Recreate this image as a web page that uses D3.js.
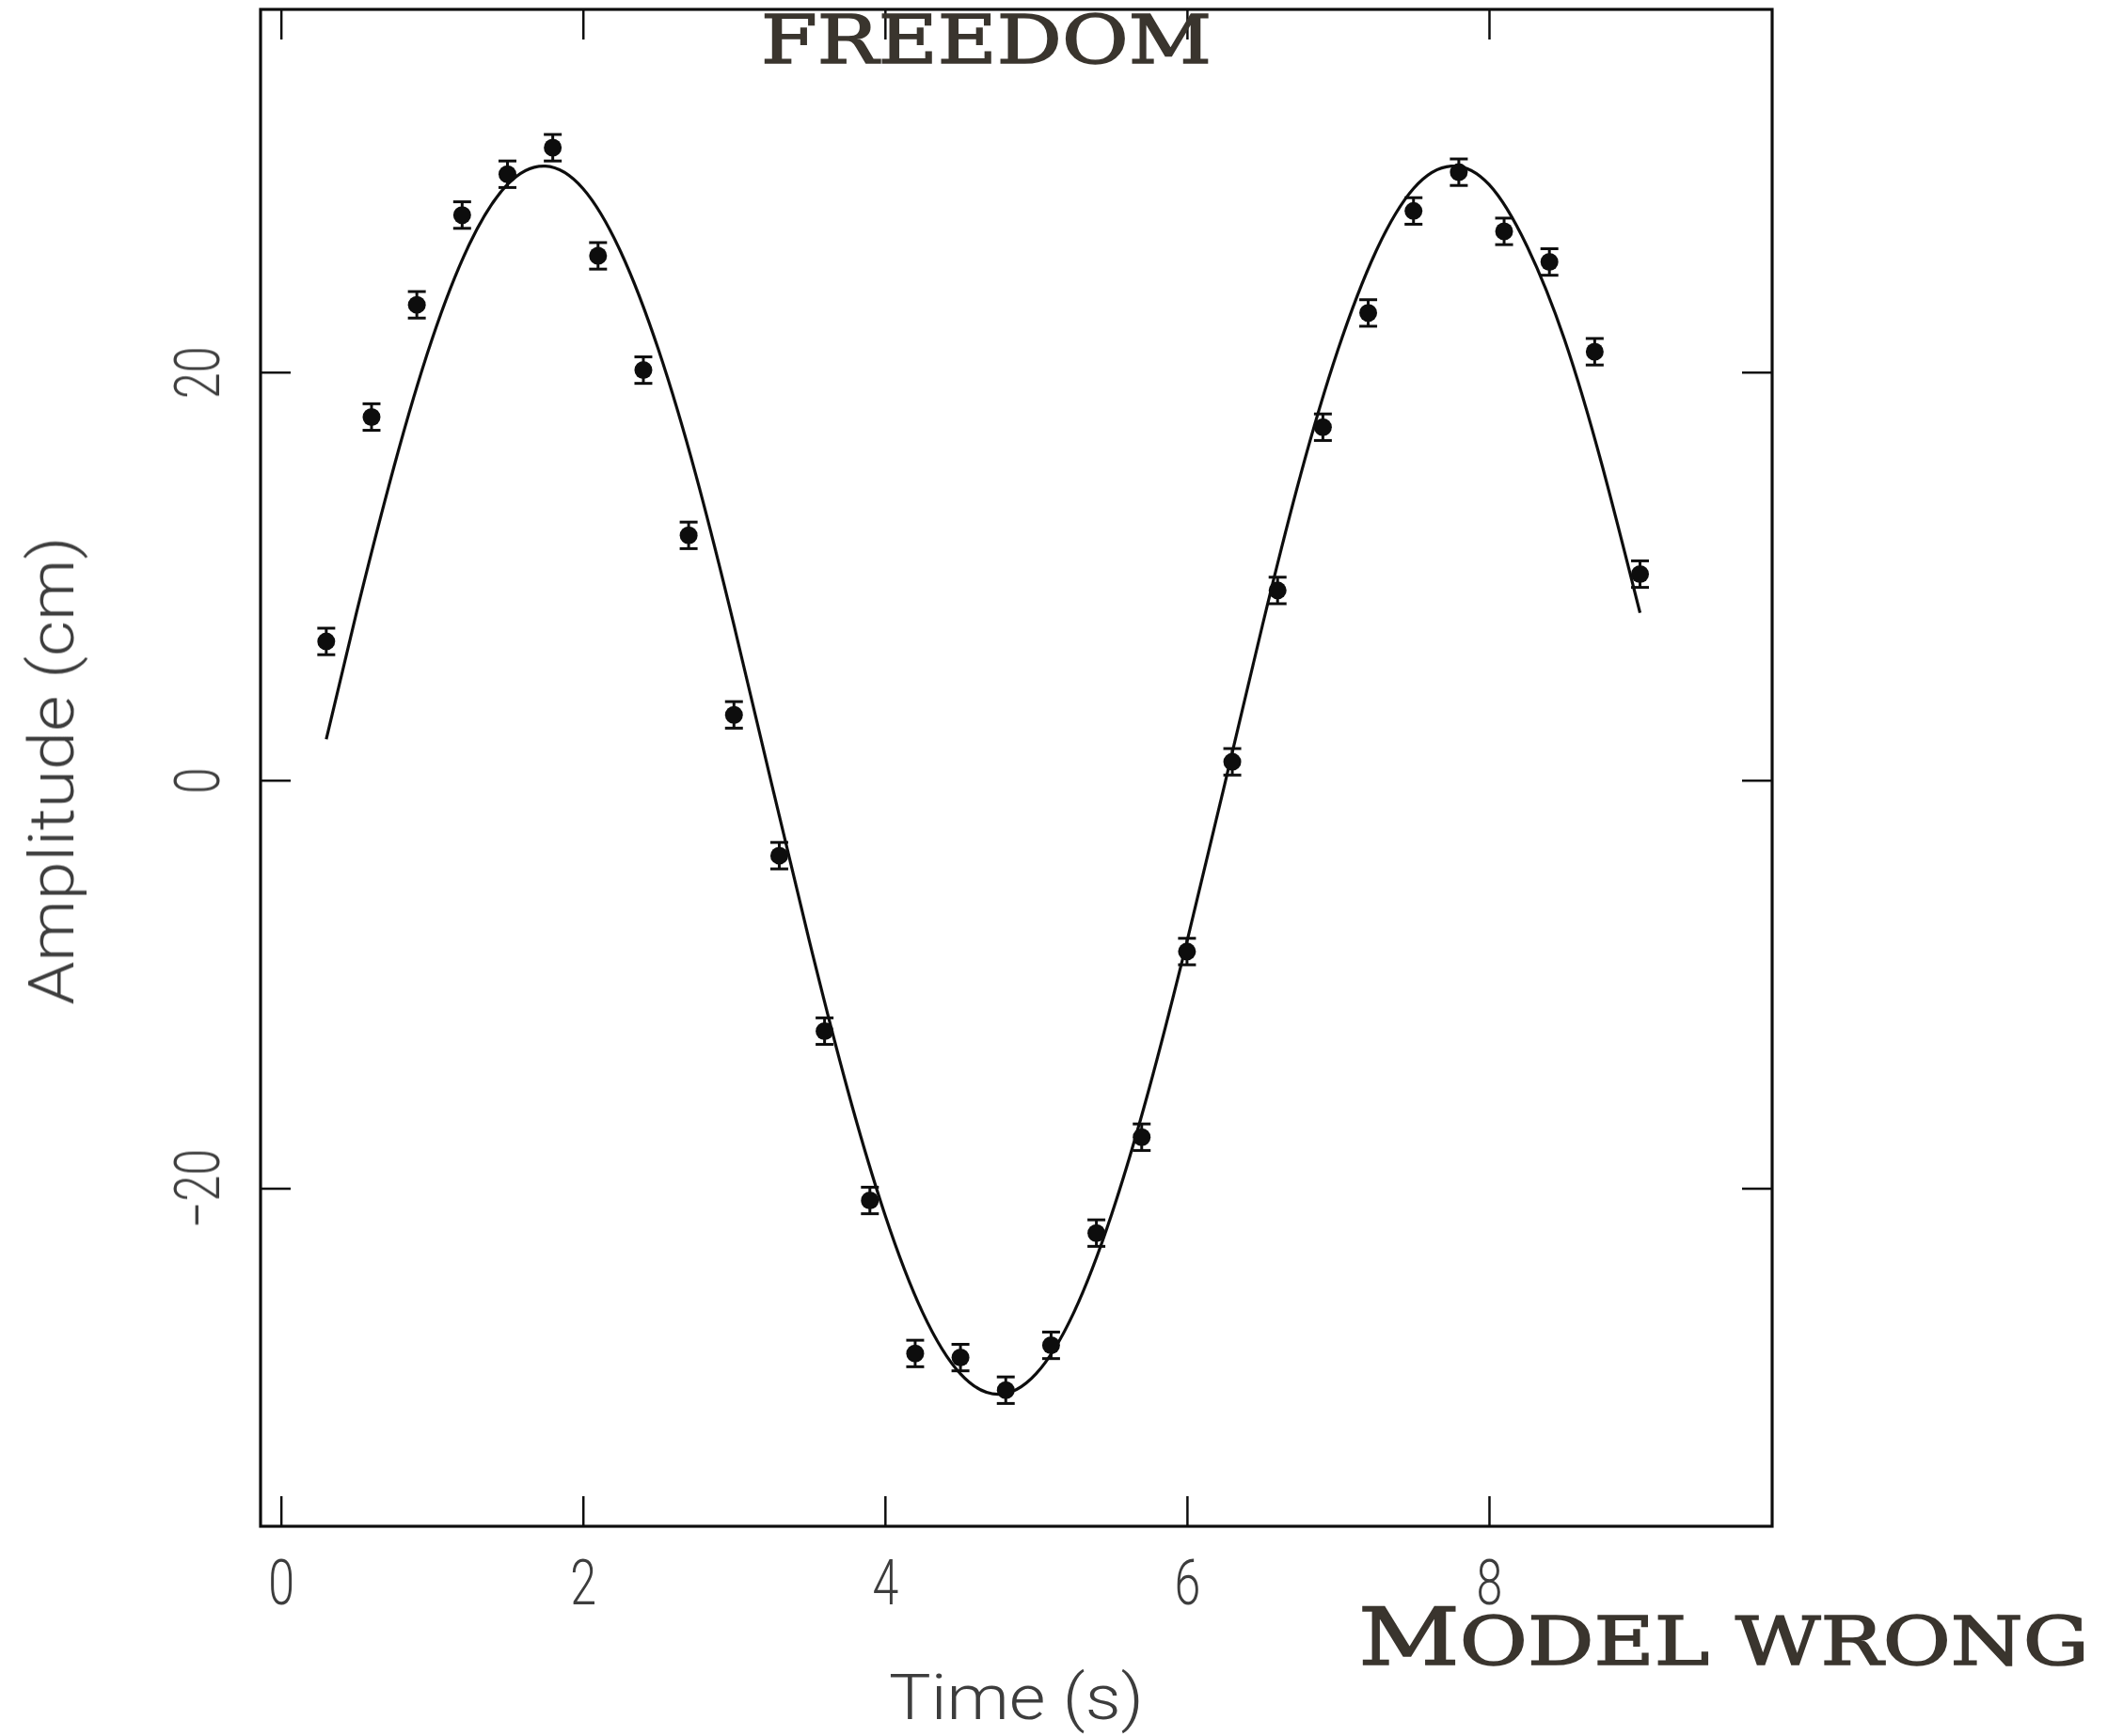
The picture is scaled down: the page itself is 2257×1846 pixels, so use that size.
<!DOCTYPE html>
<html>
<head>
<meta charset="utf-8">
<script src="https://cdn.jsdelivr.net/npm/d3@7"></script>
<style>
  html, body { margin: 0; padding: 0; background: #ffffff; }
  svg { display: block; }
</style>
</head>
<body>
<svg id="chart" width="2257" height="1846"></svg>
<script>
// Measured amplitude of the oscillator, one sample every 0.3 s
const times = [0.3, 0.6, 0.9, 1.2, 1.5, 1.8, 2.1, 2.4, 2.7, 3.0,
               3.3, 3.6, 3.9, 4.2, 4.5, 4.8, 5.1, 5.4, 5.7, 6.0,
               6.3, 6.6, 6.9, 7.2, 7.5, 7.8, 8.1, 8.4, 8.7, 9.0];
const amplitudes = [6.8, 17.8, 23.3, 27.7, 29.7, 31.0, 25.7, 20.1, 12.0, 3.2,
                    -3.7, -12.3, -20.6, -28.1, -28.3, -29.9, -27.7, -22.2, -17.5, -8.4,
                    0.9, 9.3, 17.3, 22.9, 27.9, 29.8, 26.9, 25.4, 21.0, 10.1];
const errors = [0.65, 0.65, 0.65, 0.65, 0.65, 0.65, 0.65, 0.65, 0.65, 0.65,
                0.65, 0.65, 0.65, 0.65, 0.65, 0.65, 0.65, 0.65, 0.65, 0.65,
                0.65, 0.65, 0.65, 0.65, 0.65, 0.65, 0.65, 0.65, 0.65, 0.65];

// Fitted model curve
const modelTimes = [0.3, 0.5, 0.75, 1.0, 1.25, 1.5, 1.75, 2.0, 2.25, 2.5,
                    2.75, 3.0, 3.25, 3.5, 3.75, 4.0, 4.25, 4.5, 4.75, 5.0,
                    5.25, 5.5, 5.75, 6.0, 6.25, 6.5, 6.75, 7.0, 7.25, 7.5,
                    7.75, 8.0, 8.25, 8.5, 8.75, 9.0];
const modelValues = [2.0, 8.2, 15.4, 21.6, 26.3, 29.2, 30.1, 29.0, 25.9, 21.1,
                     14.9, 7.6, -0.2, -7.9, -15.1, -21.3, -26.1, -29.1, -30.1, -29.1,
                     -26.1, -21.3, -15.1, -7.9, -0.2, 7.6, 14.9, 21.1, 25.9, 29.0,
                     30.1, 29.2, 26.2, 21.6, 15.4, 8.2];

const xTicks = [0, 2, 4, 6, 8];
const yTicks = [-20, 0, 20];

const xLabel = "Time (s)";
const yLabel = "Amplitude (cm)";
const topCaption = "FREEDOM";
const bottomCaption = { initial: "M", rest: "ODEL WRONG" };

const svg = d3.select("#chart");

// slight softening of the plotted linework
svg.append("defs").append("filter").attr("id", "soft")
  .attr("x", "-5%").attr("y", "-5%").attr("width", "110%").attr("height", "110%")
  .append("feGaussianBlur").attr("stdDeviation", 0.6);

const frame = { x0: 277, x1: 1884, y0: 10, y1: 1623 };
const x = d3.scaleLinear().domain([-0.135, 9.875]).range([frame.x0, frame.x1]);
const y = d3.scaleLinear().domain([-36.57, 37.78]).range([frame.y1, frame.y0]);

const ink = "#111";
const labelInk = "#3c3c3c";
const labelFont = "Roboto, 'DejaVu Sans', sans-serif";

const plot = svg.append("g").attr("filter", "url(#soft)");

// frame
plot.append("rect")
  .attr("x", frame.x0).attr("y", frame.y0)
  .attr("width", frame.x1 - frame.x0).attr("height", frame.y1 - frame.y0)
  .attr("fill", "none").attr("stroke", ink).attr("stroke-width", 3.2);

const fmt = d3.format("d");

function styleTicks(g) {
  g.select(".domain").remove();
  g.selectAll(".tick line").attr("stroke", ink).attr("stroke-width", 2.5);
}

// bottom axis with inward ticks and labels
const gx = plot.append("g")
  .attr("transform", `translate(0,${frame.y1})`)
  .call(d3.axisBottom(x).tickValues(xTicks).tickSize(-32).tickFormat(fmt));
styleTicks(gx);
gx.selectAll(".tick text")
  .attr("y", 83).attr("dy", 0)
  .attr("transform", "scale(0.76,1)")
  .attr("font-family", labelFont).attr("font-weight", 300)
  .attr("font-size", 66).attr("fill", labelInk);

// top axis: ticks only
const gxt = plot.append("g")
  .attr("transform", `translate(0,${frame.y0})`)
  .call(d3.axisTop(x).tickValues(xTicks).tickSize(-32).tickFormat(""));
styleTicks(gxt);

// left axis with rotated labels
const gy = plot.append("g")
  .attr("transform", `translate(${frame.x0},0)`)
  .call(d3.axisLeft(y).tickValues(yTicks).tickSize(-32).tickFormat(fmt));
styleTicks(gy);
gy.selectAll(".tick text")
  .attr("x", 0).attr("dy", 0)
  .attr("text-anchor", "middle")
  .attr("transform", "translate(-44,0) rotate(-90) scale(0.76,1)")
  .attr("font-family", labelFont).attr("font-weight", 300)
  .attr("font-size", 66).attr("fill", labelInk);

// right axis: ticks only
const gyr = plot.append("g")
  .attr("transform", `translate(${frame.x1},0)`)
  .call(d3.axisRight(y).tickValues(yTicks).tickSize(-32).tickFormat(""));
styleTicks(gyr);

// axis titles
plot.append("text")
  .attr("x", (frame.x0 + frame.x1) / 2).attr("y", 1828)
  .attr("text-anchor", "middle")
  .attr("textLength", 271).attr("lengthAdjust", "spacingAndGlyphs")
  .attr("font-family", labelFont).attr("font-weight", 300)
  .attr("font-size", 66).attr("fill", labelInk)
  .text(xLabel);

plot.append("text")
  .attr("transform", `translate(78,${(frame.y0 + frame.y1) / 2 + 3}) rotate(-90)`)
  .attr("text-anchor", "middle")
  .attr("textLength", 498).attr("lengthAdjust", "spacingAndGlyphs")
  .attr("font-family", labelFont).attr("font-weight", 300)
  .attr("font-size", 66).attr("fill", labelInk)
  .text(yLabel);

// model curve
const model = modelTimes.map((t, i) => [t, modelValues[i]]);
plot.append("path")
  .datum(model)
  .attr("fill", "none").attr("stroke", ink).attr("stroke-width", 3.2)
  .attr("d", d3.line().x(d => x(d[0])).y(d => y(d[1])).curve(d3.curveNatural));

// measurements with error bars
const pts = times.map((t, i) => ({ t, a: amplitudes[i], e: errors[i] }));
const marks = plot.append("g").selectAll("g").data(pts).join("g");
marks.append("line")
  .attr("x1", d => x(d.t)).attr("x2", d => x(d.t))
  .attr("y1", d => y(d.a + d.e)).attr("y2", d => y(d.a - d.e))
  .attr("stroke", ink).attr("stroke-width", 3);
marks.selectAll("line.cap")
  .data(d => [d.a + d.e, d.a - d.e].map(v => ({ t: d.t, v })))
  .join("line").attr("class", "cap")
  .attr("x1", d => x(d.t) - 9.5).attr("x2", d => x(d.t) + 9.5)
  .attr("y1", d => y(d.v)).attr("y2", d => y(d.v))
  .attr("stroke", ink).attr("stroke-width", 3);
marks.append("circle")
  .attr("cx", d => x(d.t)).attr("cy", d => y(d.a))
  .attr("r", 9.5).attr("fill", ink);

// overlaid captions
const capFont = "'DejaVu Serif', 'Liberation Serif', serif";
const capColor = "#3a352e";

svg.append("text")
  .attr("x", 809).attr("y", 67)
  .attr("textLength", 479).attr("lengthAdjust", "spacingAndGlyphs")
  .attr("font-family", capFont).attr("font-weight", "normal")
  .attr("font-size", 71).attr("fill", capColor)
  .attr("stroke", capColor).attr("stroke-width", 1.6)
  .text(topCaption);

const bc = svg.append("text")
  .attr("x", 1444).attr("y", 1770)
  .attr("textLength", 777).attr("lengthAdjust", "spacingAndGlyphs")
  .attr("font-family", capFont).attr("font-weight", "normal")
  .attr("fill", capColor)
  .attr("stroke", capColor).attr("stroke-width", 1.6);
bc.append("tspan").attr("font-size", 85).text(bottomCaption.initial);
bc.append("tspan").attr("font-size", 71).text(bottomCaption.rest);
</script>
</body>
</html>
